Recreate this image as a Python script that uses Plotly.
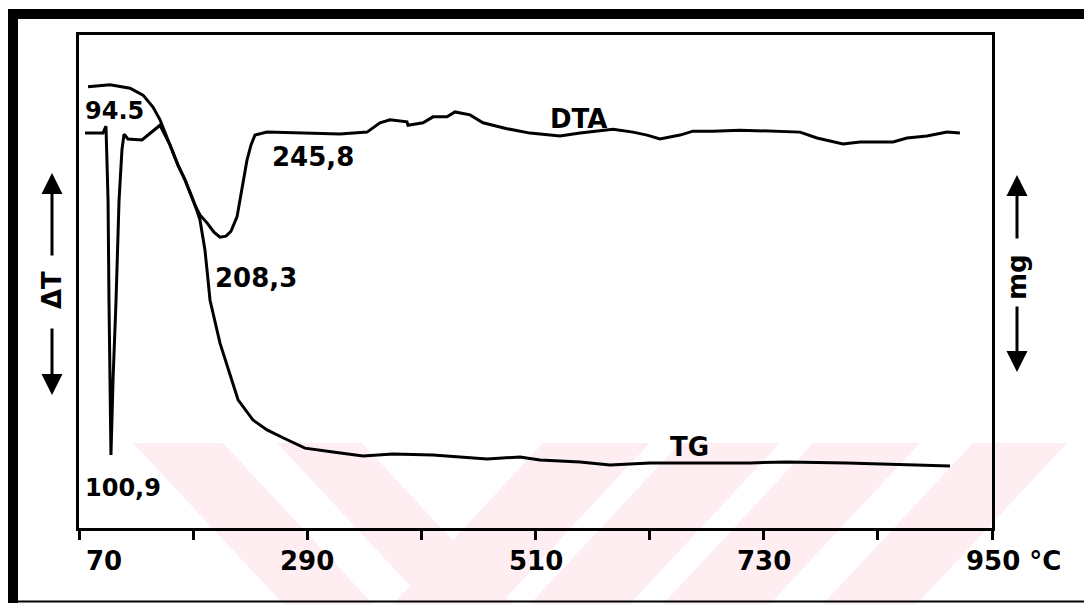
import plotly.graph_objects as go

# ---------------- data ----------------
# temperature (°C) and DTA signal (arbitrary units, 0-100 across plot height)
dta_temp = [75.8, 93.1, 96.0, 98.0, 98.9, 100.8, 102.8, 105.7, 108.6, 111.4, 113.4,
            117.2, 130.7, 140.4, 148.1, 157.7, 165.4, 172.2, 181.8, 186.6, 193.4,
            200.1, 205.9, 211.7, 216.5, 222.3, 225.2, 229.0, 231.9, 235.8, 239.6,
            251.2, 283.0, 321.6, 347.6, 360.1, 369.8, 386.1, 387.1, 401.6, 411.2,
            424.7, 432.4, 446.9, 459.4, 482.5, 504.7, 533.6, 552.9, 584.7, 604.0,
            617.5, 630.0, 649.3, 661.8, 681.1, 707.1, 765.0, 781.3, 806.4, 822.8,
            854.6, 868.1, 887.3, 906.6, 919.1]
dta_signal = [80.1, 80.1, 81.5, 66.5, 46.2, 14.8, 30.0, 46.2, 66.5, 76.7, 79.9,
              78.9, 78.7, 80.3, 81.7, 77.7, 73.6, 70.6, 65.5, 63.5, 61.9,
              60.0, 59.0, 59.2, 60.2, 63.1, 66.5, 71.6, 74.6, 77.7, 79.7,
              80.3, 80.1, 79.9, 80.3, 82.2, 82.8, 82.4, 81.7, 82.2, 83.4,
              83.4, 84.4, 83.8, 82.2, 81.0, 80.1, 79.5, 80.1, 80.9, 80.3,
              79.7, 78.9, 79.7, 80.5, 80.5, 80.7, 80.3, 79.1, 77.9, 78.3,
              78.3, 79.1, 79.5, 80.3, 80.1]

# temperature (°C) and TG signal (arbitrary units)
tg_temp = [78.7, 99.9, 119.2, 131.7, 141.3, 148.1, 157.7, 165.4, 172.2, 181.8,
           186.6, 191.4, 193.4, 196.3, 205.9, 215.5, 223.3, 237.7, 251.2, 266.6,
           287.8, 314.8, 343.7, 372.6, 411.2, 463.3, 495.1, 514.3, 552.9, 581.8,
           620.4, 716.8, 752.4, 810.2, 909.5]
tg_signal = [89.5, 89.9, 89.2, 87.8, 85.4, 82.8, 77.7, 73.6, 70.6, 65.5,
             62.5, 56.4, 52.3, 46.2, 37.5, 31.4, 26.0, 21.9, 19.9, 18.3,
             16.2, 15.4, 14.6, 15.0, 14.8, 14.0, 14.4, 13.8, 13.4, 12.8,
             13.2, 13.2, 13.4, 13.2, 12.6]

# x-axis ticks
tick_vals = [70, 180, 290, 400, 510, 620, 730, 840, 950]
label_vals = [70, 290, 510, 730, 950]

# peak annotations: (text, temperature, signal)
peak_texts = ["94.5", "100,9", "245,8", "208,3"]
peak_temps = [73.9, 73.9, 254.1, 199.2]
peak_sigs = [84.6, 8.1, 75.3, 50.7]
peak_sizes = [24, 24, 26, 26]
curve_names = ["DTA", "TG"]
curve_name_temps = [522.0, 637.7]
curve_name_sigs = [83.0, 16.4]

# ---------------- figure ----------------
W, H = 1084, 604
L, R, T, B = 79, 92, 35, 76
PW, PH = W - L - R, H - T - B


def px(xp):
    return (xp - L) / PW


def py(yp):
    return (H - B - yp) / PH


FONT = "DejaVu Sans"
fig = go.Figure()
fig.add_trace(go.Scatter(x=dta_temp, y=dta_signal, mode="lines", name="DTA",
                         line=dict(color="black", width=3), showlegend=False))
fig.add_trace(go.Scatter(x=tg_temp, y=tg_signal, mode="lines", name="TG",
                         line=dict(color="black", width=3), showlegend=False,
                         yaxis="y2"))

ann = []
for t, x, y, s in zip(peak_texts, peak_temps, peak_sigs, peak_sizes):
    ann.append(dict(x=x, y=y, xref="x", yref="y", text=t, showarrow=False,
                    xanchor="left", yanchor="middle",
                    font=dict(family=FONT, size=s, color="black", weight=700)))
for t, x, y in zip(curve_names, curve_name_temps, curve_name_sigs):
    ann.append(dict(x=x, y=y, xref="x", yref="y", text=t, showarrow=False,
                    xanchor="left", yanchor="middle",
                    font=dict(family=FONT, size=26, color="black", weight=700)))

# tick labels
for v in label_vals:
    if v == label_vals[0]:
        txt, anchor, shift = str(v), "left", 5
    elif v == label_vals[-1]:
        txt, anchor, shift = f"{v} °C", "left", -28
    else:
        txt, anchor, shift = str(v), "center", 0
    ann.append(dict(x=v, y=py(561), xref="x", yref="paper", text=txt,
                    showarrow=False, xanchor=anchor, yanchor="middle", xshift=shift,
                    font=dict(family=FONT, size=26, color="black", weight=700)))

# side labels with arrows
ann.append(dict(x=px(52), y=py(290), xref="paper", yref="paper", text="ΔT",
                textangle=-90, showarrow=False, xanchor="center", yanchor="middle",
                font=dict(family=FONT, size=26, color="black", weight=700)))
ann.append(dict(x=px(1017), y=py(277), xref="paper", yref="paper", text="mg",
                textangle=-90, showarrow=False, xanchor="center", yanchor="middle",
                font=dict(family=FONT, size=26, color="black", weight=700)))
for xh, yh, ay in [(52, 173, 84), (52, 395, -68), (1017, 175, 65), (1017, 372, -67)]:
    ann.append(dict(x=px(xh), y=py(yh), xref="paper", yref="paper", text="",
                    showarrow=True, ax=0, ay=ay, arrowhead=2, arrowsize=1.4,
                    arrowwidth=3, arrowcolor="black"))

shapes = []
# faint pink watermark stripes
pink = "rgb(254,238,241)"
for a, b in [(133, 223), (277, 362)]:
    shapes.append(dict(type="path", xref="paper", yref="paper", layer="below",
                       path=f"M {px(a)} {py(443)} L {px(b)} {py(443)} L {px(b+150)} {py(604)} L {px(a+150)} {py(604)} Z",
                       fillcolor=pink, line=dict(width=0)))
for a, b in [(543, 650), (680, 780), (813, 920), (973, 1067)]:
    shapes.append(dict(type="path", xref="paper", yref="paper", layer="below",
                       path=f"M {px(a)} {py(443)} L {px(b)} {py(443)} L {px(b-150)} {py(604)} L {px(a-150)} {py(604)} Z",
                       fillcolor=pink, line=dict(width=0)))
# outer frame
shapes.append(dict(type="rect", xref="paper", yref="paper", x0=px(8), x1=px(18),
                   y0=py(603), y1=py(9), fillcolor="black", line=dict(width=0)))
shapes.append(dict(type="rect", xref="paper", yref="paper", x0=px(8), x1=px(1084),
                   y0=py(19), y1=py(9), fillcolor="black", line=dict(width=0)))
shapes.append(dict(type="line", xref="paper", yref="paper", x0=px(8), x1=px(1084),
                   y0=py(601.5), y1=py(601.5), line=dict(color="black", width=2)))

fig.update_layout(
    width=W, height=H,
    margin=dict(l=L, r=R, t=T, b=B, pad=0),
    paper_bgcolor="white", plot_bgcolor="rgba(0,0,0,0)",
    xaxis=dict(range=[70, 950], showgrid=False, zeroline=False, showline=True,
               linecolor="black", linewidth=3, mirror=True,
               tickmode="array", tickvals=tick_vals, ticks="outside",
               ticklen=9, tickwidth=3, tickcolor="black", showticklabels=False),
    yaxis=dict(range=[0, 100], showgrid=False, zeroline=False, showline=True,
               linecolor="black", linewidth=3, mirror=True, ticks="",
               showticklabels=False),
    yaxis2=dict(range=[0, 100], overlaying="y", visible=False),
    annotations=ann, shapes=shapes,
)

fig.write_html("out.html")
